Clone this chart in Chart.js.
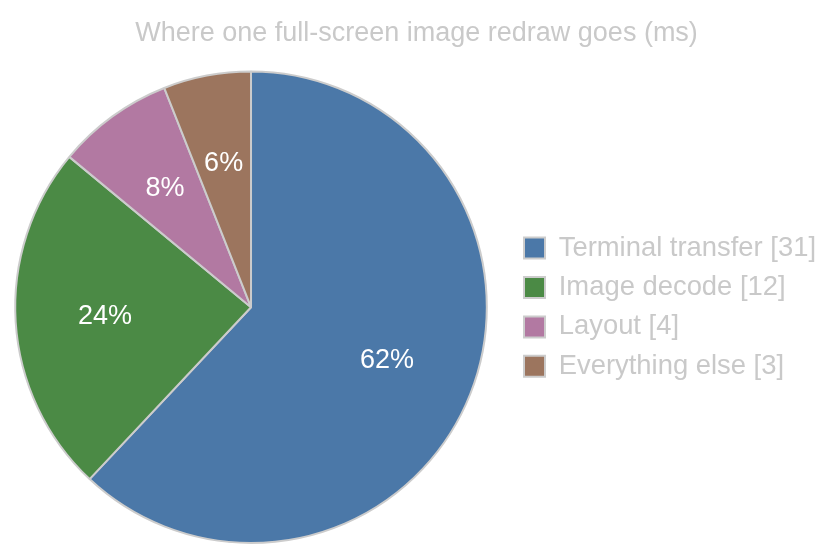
<!DOCTYPE html>
<html lang="en">
<head>
	<meta charset="utf-8">
	<title>Redraw time</title>
	<script src="https://cdn.jsdelivr.net/npm/chart.js@4.4.1/dist/chart.umd.min.js"></script>
	<style>
		html, body { margin: 0; padding: 0; background: #fff; }
		#wrap { width: 833px; height: 559px; }
	</style>
</head>
<body>
	<div id="wrap"><canvas id="pieChart"></canvas></div>
	<script>
    var categories = ["Terminal transfer", "Image decode", "Layout", "Everything else"];
    var timesMs = [31, 12, 4, 3];
    var sliceColors = ["#4b78a8", "#4b8a45", "#b279a2", "#9c755e"];
    var titleText = "Where one full-screen image redraw goes (ms)";

    var greyText = "#c9c9c9";
    var fontFamily = "'Liberation Sans', Arial, sans-serif";

    // percent labels inside each slice
    var sliceLabels = {
    	id: 'sliceLabels',
    	afterDatasetsDraw: function(chart) {
    		var ctx = chart.ctx;
    		var meta = chart.getDatasetMeta(0);
    		var total = timesMs.reduce(function(a, b) { return a + b; }, 0);
    		ctx.save();
    		ctx.fillStyle = "#ffffff";
    		ctx.font = "27px " + fontFamily;
    		ctx.textAlign = "center";
    		ctx.textBaseline = "middle";
    		meta.data.forEach(function(arc, i) {
    			var p = arc.getProps(['x', 'y', 'startAngle', 'endAngle', 'outerRadius'], true);
    			var mid = (p.startAngle + p.endAngle) / 2;
    			var r = p.outerRadius * 0.62;
    			var pct = Math.round(timesMs[i] / total * 100) + "%";
    			ctx.fillText(pct, p.x + Math.cos(mid) * r, p.y + Math.sin(mid) * r);
    		});
    		ctx.restore();
    	}
    };

    // title centred on the whole canvas, pie nudged a little to the left
    var layoutTweak = {
    	id: 'layoutTweak',
    	afterLayout: function(chart) {
    		var t = chart.titleBlock;
    		if (t) {
    			t.left = 0;
    			t.right = chart.width;
    			t.width = chart.width;
    		}
    		chart.chartArea.left -= 10;
    		chart.chartArea.width += 10;
    	}
    };

    new Chart(document.getElementById("pieChart"), {
    	type: 'pie',
    	data: {
    		labels: categories,
    		datasets: [{
    			data: timesMs,
    			backgroundColor: sliceColors,
    			borderColor: "#cccccc",
    			borderWidth: 2
    		}]
    	},
    	options: {
    		responsive: true,
    		maintainAspectRatio: false,
    		animation: false,
    		layout: {
    			padding: { left: 0, right: 7, top: 0, bottom: 15 }
    		},
    		plugins: {
    			tooltip: { enabled: false },
    			title: {
    				display: true,
    				text: titleText,
    				color: greyText,
    				font: { family: fontFamily, size: 27, weight: 'normal' },
    				padding: { top: 17, bottom: 21 }
    			},
    			legend: {
    				position: 'right',
    				fullSize: false,
    				labels: {
    					color: greyText,
    					font: { family: fontFamily, size: 27.4 },
    					boxWidth: 21,
    					boxHeight: 21,
    					padding: 12,
    					generateLabels: function(chart) {
    						return categories.map(function(c, i) {
    							return {
    								text: c + " [" + timesMs[i] + "]",
    								fillStyle: sliceColors[i],
    								strokeStyle: "#cccccc",
    								lineWidth: 2,
    								fontColor: greyText,
    								index: i
    							};
    						});
    					}
    				}
    			}
    		}
    	},
    	plugins: [sliceLabels, layoutTweak]
    });
	</script>
</body>
</html>
